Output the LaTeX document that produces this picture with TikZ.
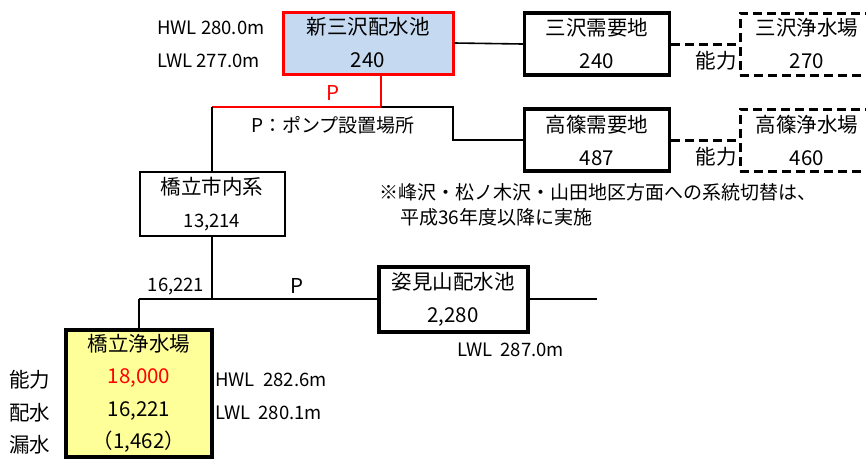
\documentclass[tikz,border=0pt]{standalone}
\usepackage{fontspec}
\setmainfont{Noto Sans CJK JP}
\usepackage{xcolor}
\definecolor{poolblue}{HTML}{C5D9F1}
\definecolor{plantyellow}{HTML}{FFFF99}
\newcommand{\boxfont}{\fontsize{20.5}{33}\selectfont}
\newcommand{\labelfont}{\fontsize{18.5}{25}\selectfont}
\tikzset{
	facility/.style={draw,line width=3.5pt,align=center,inner sep=0pt,font=\boxfont,
			minimum width=145pt,minimum height=62pt},
	planned/.style={facility,line width=3pt,dash pattern=on 9pt off 5pt,minimum width=134pt},
	pipe/.style={line width=1.6pt},
	level/.style={anchor=west,inner sep=0pt,align=left,font=\labelfont}
}

\begin{document}
\begin{tikzpicture}[x=1pt,y=-1pt]
        \useasboundingbox (0,0) rectangle (866,459);
        \node[facility,draw=red,line width=3pt,fill=poolblue,minimum width=170pt] (shinmisawa) at (368,43) {新三沢配水池\\240};
        \node[facility] (misawa_D) at (597,44) {三沢需要地\\240};
        \node[facility] (takashino_D) at (597,140) {高篠需要地\\487};
        \node[planned] (misawa_P) at (807,44) {三沢浄水場\\270};
        \node[planned] (takashino_P) at (807,140) {高篠浄水場\\460};
        \node[facility,line width=2pt,minimum height=64pt] (citysys) at (212,204) {橋立市内系\\{\labelfont 13,214}};
        \node[facility,line width=4pt,minimum width=149pt,minimum height=65pt] (sugatami) at (453,299) {姿見山配水池\\2,280};
        \node[facility,line width=4pt,fill=plantyellow,minimum width=146pt,minimum height=127pt,
            font=\fontsize{20.5}{32.5}\selectfont] (hashi_P) at (139,393.5) {橋立浄水場\\{\color{red}18,000}\\16,221\\（1,462）};
        \coordinate (pump_T) at (381,107);
        \coordinate (pump_L) at (212,107);
        \coordinate (bend_T) at (453,107);
        \coordinate (join_C) at (212,299);
        \coordinate (join_P) at (139,299);
        \coordinate (end_E) at (597,299);
        \draw[pipe] (shinmisawa.east) -- (misawa_D.west);
        \draw[pipe,dash pattern=on 9pt off 5pt,line width=3pt] (misawa_D.east) -- (misawa_P.west);
        \draw[pipe,dash pattern=on 9pt off 5pt,line width=3pt] (takashino_D.east) -- (takashino_P.west);
        \draw[pipe,red] (pump_T |- shinmisawa.south) -- (pump_T) -- (pump_L);
        \draw[pipe] (pump_T) -- (bend_T) |- (takashino_D.west);
        \draw[pipe] (pump_L) -- (citysys.north);
        \draw[pipe] (citysys.south) -- (join_C);
        \draw[pipe] (join_P) -- (sugatami.west);
        \draw[pipe] (join_P) -- (hashi_P.north);
        \draw[pipe] (sugatami.east) -- (end_E);
        \node[level] (hwl_S) at (157,28) {HWL 280.0m};
        \node[level] (lwl_S) at (157,61) {LWL 277.0m};
        \node[font=\boxfont,red] (pump_mark) at (333,93) {P};
        \node[font=\fontsize{19}{25}\selectfont] (pump_note) at (333,125) {P：ポンプ設置場所};
        \node[font=\boxfont] (cap_M) at (716,61) {能力};
        \node[font=\boxfont] (cap_T) at (716,157) {能力};
        \node[level,font=\fontsize{19}{25}\selectfont] (switch_note) at (379,205) {※峰沢・松ノ木沢・山田地区方面への系統切替は、\\\hspace{1.1em}平成36年度以降に実施};
        \node[font=\labelfont] (flow_C) at (176,287) {16,221};
        \node[font=\boxfont] (pump_S) at (297,286) {P};
        \node[level] (lwl_K) at (457,350) {LWL\ \ 287.0m};
        \node[level,font=\fontsize{20.5}{32.5}\selectfont] (plant_rows) at (9,412.5) {能力\\配水\\漏水};
        \node[level,font=\fontsize{18.5}{33}\selectfont] (plant_levels) at (215,396.5) {HWL\ \ 282.6m\\LWL\ \ 280.1m};
\end{tikzpicture}
\end{document}
